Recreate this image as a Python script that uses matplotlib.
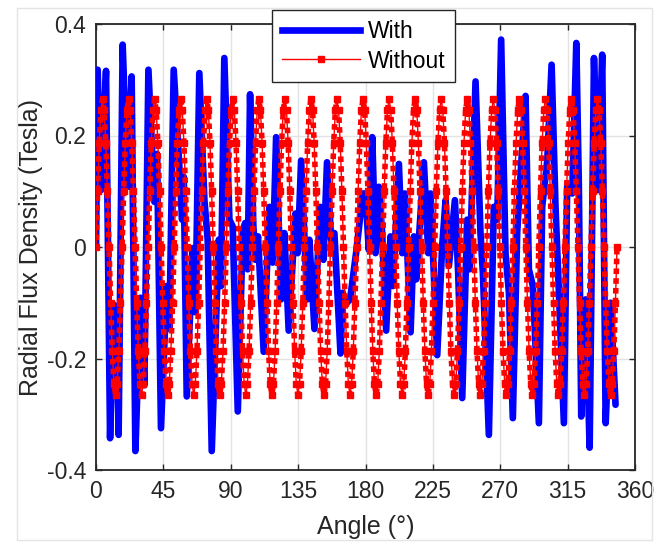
import numpy as np
import matplotlib
matplotlib.use("Agg")
import matplotlib.pyplot as plt
from matplotlib.lines import Line2D
from matplotlib.patches import Rectangle

plt.rcParams['font.family'] = ['Liberation Sans', 'DejaVu Sans']

# ---------------- data ----------------
x_ticks = [0, 45, 90, 135, 180, 225, 270, 315, 360]
y_ticks = [-0.4, -0.2, 0, 0.2, 0.4]
y_tick_labels = ["-0.4", "-0.2", "0", "0.2", "0.4"]
series_labels = ["With", "Without"]

# "With" series: vertices (angle in degrees, flux in Tesla)
with_angle = [
    0.0, 1.1, 3.3, 6.7, 9.4, 11.6, 13.4, 15.1, 17.8, 21.2, 23.8, 26.3, 29.6, 32.3,
    35.0, 39.0, 40.8, 43.4, 47.2, 49.0, 51.9, 55.7, 57.5, 58.6, 60.6, 64.6, 66.4,
    69.0, 72.4, 74.6, 77.3, 82.0, 83.5, 85.7, 89.1, 91.3, 94.7, 98.0, 99.6, 101.3,
    102.9, 105.1, 106.5, 108.2, 112.0, 115.8, 118.0, 120.3, 123.6, 125.8, 128.7,
    133.2, 134.7, 137.0, 141.0, 142.5, 145.9, 149.7, 151.9, 154.3, 157.0, 159.2,
    163.3, 164.8, 166.6, 169.7, 173.7, 178.2, 180.0, 182.2, 184.5, 186.7, 188.9,
    191.1, 193.8, 196.7, 198.3, 202.3, 204.5, 206.3, 210.1, 212.3, 213.9, 219.0,
    221.9, 223.4, 227.9, 231.2, 233.5, 235.7, 239.7, 241.9, 244.6, 247.9, 249.5,
    253.5, 256.8, 258.4, 262.4, 265.7, 268.0, 270.6, 273.5, 275.8, 278.4, 281.3,
    283.6, 286.9, 289.1, 291.8, 295.8, 298.0, 301.4, 304.3, 306.9, 309.2, 312.5,
    314.7, 318.1, 320.8, 322.5, 324.1, 327.0, 329.7, 332.6, 335.2, 338.1, 340.4,
    343.7, 347.0,
]
with_flux = [
    0.000, 0.318, 0.102, 0.316, -0.343, -0.103, -0.117, -0.337, 0.363, 0.108, 0.306,
    -0.366, -0.091, -0.248, 0.318, 0.081, 0.167, -0.325, -0.070, -0.147, 0.318, 0.143,
    0.049, 0.126, -0.268, -0.002, -0.117, 0.312, 0.084, 0.013, -0.366, 0.013, -0.070,
    0.339, 0.049, 0.037, -0.295, 0.025, 0.043, -0.040, 0.274, 0.037, -0.023, 0.019,
    -0.188, 0.072, -0.028, 0.197, -0.094, 0.025, -0.150, 0.060, -0.011, 0.155, -0.094,
    0.013, -0.147, 0.072, -0.023, 0.152, 0.013, 0.025, -0.191, -0.082, -0.103, -0.094,
    -0.011, 0.096, 0.096, -0.005, 0.197, -0.011, 0.108, 0.025, -0.150, 0.019, -0.070,
    0.149, -0.011, 0.096, -0.153, 0.019, -0.058, 0.152, -0.011, 0.096, -0.194, 0.001,
    0.084, -0.034, 0.084, -0.046, -0.271, 0.049, -0.040, 0.297, 0.025, -0.046, -0.337,
    0.072, 0.049, 0.372, -0.011, -0.082, -0.307, 0.025, 0.132, 0.271, -0.040, -0.070,
    -0.316, 0.072, 0.155, 0.327, 0.072, -0.082, -0.316, 0.108, 0.096, 0.366, 0.108,
    -0.304, -0.094, -0.360, 0.339, 0.102, 0.345, -0.316, -0.100, -0.283,
]

# "Without" series: evenly spaced samples from 0 to 348 degrees
without_start = 0.0
without_end = 348.0
without_flux = [
    0.000, 0.101, 0.187, 0.245, 0.265, 0.245, 0.187, 0.101, 0.000, -0.101, -0.187, -0.245, -0.265, -0.245, -0.187, -0.101,
    0.000, 0.101, 0.187, 0.245, 0.265, 0.245, 0.187, 0.101, 0.000, -0.101, -0.187, -0.245, -0.265, -0.245, -0.187, -0.101,
    0.000, 0.101, 0.187, 0.245, 0.265, 0.245, 0.187, 0.101, 0.000, -0.101, -0.187, -0.245, -0.265, -0.245, -0.187, -0.101,
    0.000, 0.101, 0.187, 0.245, 0.265, 0.245, 0.187, 0.101, 0.000, -0.101, -0.187, -0.245, -0.265, -0.245, -0.187, -0.101,
    0.000, 0.101, 0.187, 0.245, 0.265, 0.245, 0.187, 0.101, 0.000, -0.101, -0.187, -0.245, -0.265, -0.245, -0.187, -0.101,
    0.000, 0.101, 0.187, 0.245, 0.265, 0.245, 0.187, 0.101, 0.000, -0.101, -0.187, -0.245, -0.265, -0.245, -0.187, -0.101,
    0.000, 0.101, 0.187, 0.245, 0.265, 0.245, 0.187, 0.101, 0.000, -0.101, -0.187, -0.245, -0.265, -0.245, -0.187, -0.101,
    0.000, 0.101, 0.187, 0.245, 0.265, 0.245, 0.187, 0.101, 0.000, -0.101, -0.187, -0.245, -0.265, -0.245, -0.187, -0.101,
    0.000, 0.101, 0.187, 0.245, 0.265, 0.245, 0.187, 0.101, 0.000, -0.101, -0.187, -0.245, -0.265, -0.245, -0.187, -0.101,
    0.000, 0.101, 0.187, 0.245, 0.265, 0.245, 0.187, 0.101, 0.000, -0.101, -0.187, -0.245, -0.265, -0.245, -0.187, -0.101,
    0.000, 0.101, 0.187, 0.245, 0.265, 0.245, 0.187, 0.101, 0.000, -0.101, -0.187, -0.245, -0.265, -0.245, -0.187, -0.101,
    0.000, 0.101, 0.187, 0.245, 0.265, 0.245, 0.187, 0.101, 0.000, -0.101, -0.187, -0.245, -0.265, -0.245, -0.187, -0.101,
    0.000, 0.101, 0.187, 0.245, 0.265, 0.245, 0.187, 0.101, 0.000, -0.101, -0.187, -0.245, -0.265, -0.245, -0.187, -0.101,
    0.000, 0.101, 0.187, 0.245, 0.265, 0.245, 0.187, 0.101, 0.000, -0.101, -0.187, -0.245, -0.265, -0.245, -0.187, -0.101,
    0.000, 0.101, 0.187, 0.245, 0.265, 0.245, 0.187, 0.101, 0.000, -0.101, -0.187, -0.245, -0.265, -0.245, -0.187, -0.101,
    0.000, 0.101, 0.187, 0.245, 0.265, 0.245, 0.187, 0.101, 0.000, -0.101, -0.187, -0.245, -0.265, -0.245, -0.187, -0.101,
    0.000, 0.101, 0.187, 0.245, 0.265, 0.245, 0.187, 0.101, 0.000, -0.101, -0.187, -0.245, -0.265, -0.245, -0.187, -0.101,
    0.000, 0.101, 0.187, 0.245, 0.265, 0.245, 0.187, 0.101, 0.000, -0.101, -0.187, -0.245, -0.265, -0.245, -0.187, -0.101,
    0.000, 0.101, 0.187, 0.245, 0.265, 0.245, 0.187, 0.101, 0.000, -0.101, -0.187, -0.245, -0.265, -0.245, -0.187, -0.101,
    0.000, 0.101, 0.187, 0.245, 0.265, 0.245, 0.187, 0.101, 0.000, -0.101, -0.187, -0.245, -0.265, -0.245, -0.187, -0.101,
    0.000,
]
without_angle = np.linspace(without_start, without_end, len(without_flux))

# ---------------- figure ----------------
W, H = 667, 547
fig = plt.figure(figsize=(W / 100, H / 100), dpi=100)
fig.patch.set_facecolor('white')

# faint outer frame
fig.patches.append(Rectangle((17 / W, 1 - 540 / H), (652 - 17) / W, (540 - 8) / H,
                             transform=fig.transFigure, fill=False,
                             ec='#e4e4e4', lw=1.0))

ax = fig.add_axes([96 / W, 1 - 470 / H, (635 - 96) / W, (470 - 24) / H])

dark = '#262626'
ax.plot(with_angle, with_flux, color='#0000ff', lw=4.8,
        solid_joinstyle='round', solid_capstyle='round', zorder=3)

ax.plot(without_angle, without_flux, color='#ff0000', lw=1.0, zorder=4)
ax.plot(without_angle, without_flux, color='#ff0000', lw=4.0,
        linestyle=(0, (0.01, 1.75)), dash_capstyle='projecting', zorder=4)
ax.plot(without_angle, without_flux, color='#ff0000', lw=0, marker='s',
        ms=4.3, mec='#ff0000', mfc='#ff0000', zorder=4)

ax.set_xlim(0, 360)
ax.set_ylim(-0.4, 0.4)
ax.set_xticks(x_ticks)
ax.set_yticks(y_ticks)
ax.set_yticklabels(y_tick_labels)
ax.grid(True, color='#e3e3e3', lw=1.0)
ax.set_axisbelow(True)
ax.tick_params(direction='in', length=4, width=1.0, top=True, right=True,
               colors=dark, labelsize=16.5, pad=7)
for s in ax.spines.values():
    s.set_color(dark)
    s.set_linewidth(1.3)
ax.set_xlabel('Angle (°)', fontsize=18, color=dark, labelpad=9)
ax.set_ylabel('Radial Flux Density (Tesla)', fontsize=18, color=dark, labelpad=3)

handles = [
    Line2D([], [], color='#0000ff', lw=4.8),
    Line2D([], [], color='#ff0000', lw=1.0, marker='s', ms=4.3),
]
leg = fig.legend(handles, series_labels, loc='upper center',
                 bbox_to_anchor=(363.5 / W, 1 - 10 / H), fontsize=16.5,
                 frameon=True, fancybox=False, edgecolor=dark, framealpha=1,
                 handlelength=3.4, handletextpad=0.35, labelspacing=0.3,
                 borderpad=0.42, borderaxespad=0, numpoints=1)
leg.get_frame().set_linewidth(1.0)
leg.set_zorder(10)

fig.savefig('out.png', dpi=100)
